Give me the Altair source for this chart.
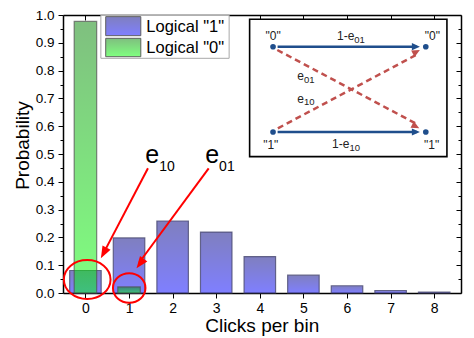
import altair as alt
import pandas as pd

# ---------------- data ----------------
clicks = [0, 1, 2, 3, 4, 5, 6, 7, 8]
p_logical1 = [0.081, 0.198, 0.259, 0.219, 0.131, 0.064, 0.026, 0.009, 0.003]
clicks_logical0 = [0, 1]
p_logical0 = [0.977, 0.022]

x_tick_values = [0, 1, 2, 3, 4, 5, 6, 7, 8]
y_tick_values = [round(v, 2) for v in
                 [0.0, 0.05, 0.1, 0.15, 0.2, 0.25, 0.3, 0.35, 0.4, 0.45, 0.5,
                  0.55, 0.6, 0.65, 0.7, 0.75, 0.8, 0.85, 0.9, 0.95, 1.0]]
legend_labels = ['Logical "1"', 'Logical "0"']
x_title = "Clicks per bin"
y_title = "Probability"

# ---------------- layout / style ----------------
W, H = 398, 278
XDOM = [-0.4, 8.5]
YDOM = [0, 1]
FONT = "Liberation Sans"
XS = alt.Scale(domain=XDOM, nice=False, zero=False)
YS = alt.Scale(domain=YDOM, nice=False, zero=True)

MINOR = "abs(round(datum.value * 10) - datum.value * 10) > 0.01"
TICK_COND = {"condition": {"test": MINOR, "value": 3}, "value": 5}


def grad(top, bottom):
    return {"gradient": "linear", "x1": 0, "x2": 0, "y1": 0, "y2": 1,
            "stops": [{"offset": 0, "color": top}, {"offset": 1, "color": bottom}]}


BLUE_GRAD = grad("#000080", "#0000ff")
GREEN_GRAD = grad("#008000", "#00ff00")


def enc(chart, xaxis=None, yaxis=None, **extra):
    return chart.encode(
        x=alt.X("x:Q", scale=XS, axis=xaxis),
        y=alt.Y("y:Q", scale=YS, axis=yaxis),
        **extra,
    )


x_axis_bottom = alt.Axis(
    orient="bottom", values=x_tick_values, format="d", tickSize=5,
    labelPadding=3, labelFontSize=14, title=x_title, titleFontSize=19,
    titleX=198.7, titleY=38, titleAlign="center", titleBaseline="alphabetic")
y_axis_left = alt.Axis(
    orient="left", values=y_tick_values,
    labelExpr=f"{MINOR} ? '' : format(datum.value, '.1f')",
    tickSize=TICK_COND, labelPadding=4, labelFontSize=13.5,
    title=y_title, titleFontSize=19, titleAngle=270, titleX=-34.5,
    titleY=130, titleAlign="center", titleBaseline="alphabetic")
# inward ticks on top and right edges (offset axes)
x_axis_top = alt.Axis(orient="bottom", offset=-H, values=x_tick_values,
                      labels=False, tickSize=5, title="")
y_axis_right = alt.Axis(orient="left", offset=-W, values=y_tick_values,
                        labels=False, tickSize=TICK_COND, title="")

# ---------------- bars ----------------
blue_df = pd.DataFrame({"x": clicks, "y": p_logical1})
green_df = pd.DataFrame({"x": clicks_logical0, "y": p_logical0})

blue = enc(alt.Chart(blue_df).mark_bar(
    width=31.5, fill=BLUE_GRAD, fillOpacity=0.5, stroke="#4a4a70",
    strokeWidth=1.2, strokeOpacity=0.8), x_axis_bottom, y_axis_left)
green = enc(alt.Chart(green_df).mark_bar(
    width=22.5, fill=GREEN_GRAD, fillOpacity=0.5, stroke="#505050",
    strokeWidth=1.2, strokeOpacity=0.7), x_axis_top, y_axis_right)

# ---------------- legend (drawn in data units) ----------------
leg_box = pd.DataFrame({"x": [0.354], "x2": [3.296], "y": [0.9995], "y2": [0.8442]})
leg_sw1 = pd.DataFrame({"x": [0.465], "x2": [1.270], "y": [0.9941], "y2": [0.9256]})
leg_sw0 = pd.DataFrame({"x": [0.465], "x2": [1.270], "y": [0.9161], "y2": [0.8500]})
leg_txt = pd.DataFrame({"x": [1.396, 1.396], "y": [0.9578, 0.8823], "t": legend_labels})

legend_box = enc(alt.Chart(leg_box).mark_rect(fill="white", stroke="#a8a8a8", strokeWidth=1),
                 x2="x2:Q", y2="y2:Q")
legend_sw1 = enc(alt.Chart(leg_sw1).mark_rect(fill=BLUE_GRAD, fillOpacity=0.5, stroke="#606060",
                                               strokeWidth=1), x2="x2:Q", y2="y2:Q")
legend_sw0 = enc(alt.Chart(leg_sw0).mark_rect(fill=GREEN_GRAD, fillOpacity=0.5, stroke="#606060",
                                               strokeWidth=1), x2="x2:Q", y2="y2:Q")
legend_text = enc(alt.Chart(leg_txt).mark_text(align="left", baseline="middle", fontSize=16.5,
                                               font=FONT, color="black"), text="t:N")

# ---------------- inset diagram ----------------
ARROW = "M0,0L0.45,1L-0.45,1Z"
INK_BLUE = "#1f4e8c"
INK_RED = "#c0504d"

inset_box_df = pd.DataFrame({"x": [3.766], "x2": [8.292], "y": [0.9845], "y2": [0.4905]})
inset_box = enc(alt.Chart(inset_box_df).mark_rect(fill="white", stroke="black", strokeWidth=1.6),
                x2="x2:Q", y2="y2:Q")

dots_df = pd.DataFrame({"x": [4.303, 7.807, 4.303, 7.807], "y": [0.8859, 0.8859, 0.5791, 0.5791]})
dots = enc(alt.Chart(dots_df).mark_point(filled=True, size=32, color=INK_BLUE, opacity=1))

blue_sh = pd.DataFrame({"x": [4.408, 4.408], "y": [0.8859, 0.5791],
                        "x2": [7.60, 7.60], "y2": [0.8859, 0.5791]})
blue_shafts = enc(alt.Chart(blue_sh).mark_rule(color=INK_BLUE, strokeWidth=2.5),
                  x2="x2:Q", y2="y2:Q")
blue_hd = pd.DataFrame({"x": [7.672, 7.672], "y": [0.8859, 0.5791], "a": [90, 90]})
blue_heads = enc(alt.Chart(blue_hd).mark_point(shape=ARROW, size=256, filled=True,
                                               color=INK_BLUE, opacity=1),
                 angle=alt.Angle("a:Q", scale=None))

red_sh = pd.DataFrame({"x": [4.401, 4.414], "y": [0.8741, 0.5924],
                       "x2": [7.60, 7.615], "y2": [0.6078, 0.8587]})
red_shafts = enc(alt.Chart(red_sh).mark_rule(color=INK_RED, strokeWidth=2.5, strokeDash=[6, 4]),
                 x2="x2:Q", y2="y2:Q")
red_hd = pd.DataFrame({"x": [7.657, 7.672], "y": [0.5924, 0.8741], "a": [118.3, 61.7]})
red_heads = enc(alt.Chart(red_hd).mark_point(shape=ARROW, size=256, filled=True,
                                             color=INK_RED, opacity=1),
                angle=alt.Angle("a:Q", scale=None))

quotes_df = pd.DataFrame({"x": [4.307, 7.957, 4.251, 7.941],
                          "y": [0.9245, 0.9245, 0.5324, 0.5324],
                          "t": ['"0"', '"0"', '"1"', '"1"']})
quotes = enc(alt.Chart(quotes_df).mark_text(align="center", baseline="middle", fontSize=12,
                                            font=FONT, color="#222222"), text="t:N")

inset_main_df = pd.DataFrame({"x": [6.168, 6.056, 5.011, 5.011],
                              "y": [0.9245, 0.5359, 0.7806, 0.6989],
                              "t": ["1-e", "1-e", "e", "e"]})
inset_sub_df = pd.DataFrame({"x": [6.168, 6.056, 5.011, 5.011],
                             "y": [0.9083, 0.5216, 0.7662, 0.6870],
                             "t": ["01", "10", "01", "10"]})
inset_main = enc(alt.Chart(inset_main_df).mark_text(align="right", baseline="middle", fontSize=12,
                                                    font=FONT, color="#222222"), text="t:N")
inset_sub = enc(alt.Chart(inset_sub_df).mark_text(align="left", baseline="middle", fontSize=9.5,
                                                  font=FONT, color="#222222"), text="t:N")

# ---------------- red annotations ----------------
def ellipse_path(r, k=0.5523):
    return (f"M-1,0C-1,{-k*r:.3f} {-k:.3f},{-r:.3f} 0,{-r:.3f}"
            f"C{k:.3f},{-r:.3f} 1,{-k*r:.3f} 1,0"
            f"C1,{k*r:.3f} {k:.3f},{r:.3f} 0,{r:.3f}"
            f"C{-k:.3f},{r:.3f} -1,{k*r:.3f} -1,0Z")


ell_df = pd.DataFrame({"x": [0.0405, 1.004], "y": [0.0485, 0.0180],
                       "shp": [ellipse_path(39 / 46.7), ellipse_path(29.7 / 32.5)],
                       "sz": [46.7 ** 2, 32.5 ** 2]})
ellipses = enc(alt.Chart(ell_df).mark_point(filled=False, color="#ff0000", strokeWidth=2,
                                            opacity=1),
               shape=alt.Shape("shp:N", scale=None), size=alt.Size("sz:Q", scale=None))

arr_df = pd.DataFrame({"x": [1.434, 2.827], "y": [0.4486, 0.4486],
                       "x2": [0.40, 1.23], "y2": [0.139, 0.1088]})
arr_shafts = enc(alt.Chart(arr_df).mark_rule(color="#ff0000", strokeWidth=2),
                 x2="x2:Q", y2="y2:Q")
arr_hd = pd.DataFrame({"x": [0.354, 1.172], "y": [0.1249, 0.0888], "a": [208.2, 216.5]})
arr_heads = enc(alt.Chart(arr_hd).mark_point(shape="M0,0L0.38,1L-0.38,1Z", size=576,
                                             filled=True, color="#ff0000", opacity=1),
                angle=alt.Angle("a:Q", scale=None))

big_e_df = pd.DataFrame({"x": [1.691, 3.066], "y": [0.4665, 0.4665], "t": ["e", "e"]})
big_sub_df = pd.DataFrame({"x": [1.691, 3.066], "y": [0.4399, 0.4399], "t": ["10", "01"]})
big_e = enc(alt.Chart(big_e_df).mark_text(align="right", baseline="alphabetic", fontSize=25,
                                          font=FONT, color="black"), text="t:N")
big_sub = enc(alt.Chart(big_sub_df).mark_text(align="left", baseline="alphabetic", fontSize=14,
                                              font=FONT, color="black"), text="t:N")

chart = alt.layer(
    blue, green,
    legend_box, legend_sw1, legend_sw0, legend_text,
    inset_box, blue_shafts, red_shafts, blue_heads, red_heads, dots,
    quotes, inset_main, inset_sub,
    ellipses, arr_shafts, arr_heads, big_e, big_sub,
).resolve_axis(
    x="independent", y="independent"
).properties(
    width=W, height=H,
    padding={"left": 55, "top": 7, "right": 5, "bottom": 45},
    autosize=alt.AutoSizeParams(type="none"),
).configure_view(
    stroke="transparent"
).configure_axis(
    domainColor="black", domainWidth=1.5, tickColor="black", tickWidth=1,
    labelColor="black", titleColor="black", labelFont=FONT, titleFont=FONT,
    titleFontWeight="normal", grid=False, labelOverlap=False, labelFlush=False,
    zindex=1,
)

chart.save("out.html", embed_options={"renderer": "svg", "actions": False})
